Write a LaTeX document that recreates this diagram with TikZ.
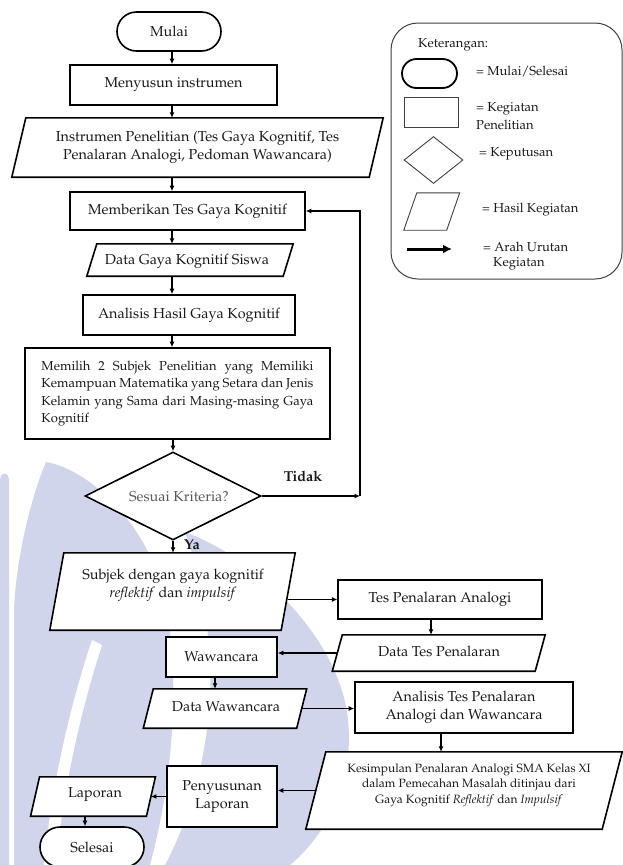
\documentclass[tikz,border=0pt]{standalone}
\usepackage[T1]{fontenc}
\usepackage{mathpazo}
\usetikzlibrary{shapes.geometric,shapes.misc,calc,arrows.meta}
\definecolor{wm}{RGB}{208,213,235}
\newcommand\fmain{\fontsize{14.4}{18}\selectfont}
\newcommand\fsmall{\fontsize{13}{17.5}\selectfont}
\newcommand\fkes{\fontsize{12}{15.5}\selectfont}
\newcommand\paral[3][pline]{\draw[#1] ($(#2.north west)+(#3,0)$) -- ($(#2.north east)+(#3,0)$) -- ($(#2.south east)-(#3,0)$) -- ($(#2.south west)-(#3,0)$) -- cycle;}
\begin{document}
\begin{tikzpicture}[x=1pt,y=-1pt,
  txt/.style={inner sep=0pt, align=center, font=\fmain, text=black!90},
  box/.style={txt, draw=black, fill=white, line width=1.6pt},
  term/.style={box, rounded rectangle},
  hold/.style={txt},
  pline/.style={draw=black, fill=white, line width=1.6pt, line join=miter},
  arr/.style={draw=black, line width=1.3pt, -{Latex[length=5.5pt,width=5pt]}},
  legtxt/.style={inner sep=0pt, anchor=west, font=\fsmall, text=black!90, align=left},
  lab/.style={inner sep=0pt, font=\fmain\bfseries, text=black!90}]
\useasboundingbox (0,0) rectangle (623,865);
\fill[white] (0,0) rectangle (623,865);

% faint watermark in the background
\fill[wm] (0,865) -- (0,481) .. controls (0,471) and (9,471) .. (9,481) -- (9,865) -- cycle;
\fill[wm] (46,462) .. controls (90,470) and (140,520) .. (160,580) .. controls (180,650) and (178,760) .. (150,865) -- (14,865) -- (14,610) .. controls (16,560) and (30,500) .. (46,462) -- cycle;
\fill[white] (92,640) .. controls (72,700) and (52,780) .. (44,865) -- (56,865) .. controls (64,780) and (84,700) .. (102,645) -- cycle;
\fill[wm] (185,532) .. controls (260,560) and (340,640) .. (348,720) .. controls (355,790) and (320,840) .. (290,865) -- (165,865) .. controls (200,800) and (222,700) .. (204,610) .. controls (198,575) and (192,550) .. (185,532) -- cycle;

% helper columns
\coordinate (sp) at (172,0);
\coordinate (lx) at (360,0);
\coordinate (ca) at (431,0);
\coordinate (cb) at (215,0);
\coordinate (cc) at (441,0);
\coordinate (cd) at (85,0);

% main chain
\node[term, minimum width=104pt, minimum height=39pt] (mulai) at (169,31.5) {Mulai};
\node[box, minimum width=207pt, minimum height=40pt] (menyusun) at (173.5,85) {Menyusun instrumen};
\node[hold, minimum width=357pt, minimum height=59pt] (instr) at (197.5,147.5) {};
\paral{instr}{7}
\node[txt] (instrt) at (197.5,147) {Instrumen Penelitian (Tes Gaya Kognitif, Tes\\Penalaran Analogi, Pedoman Wawancara)};
\node[box, minimum width=235pt, minimum height=38pt] (mem) at (187.5,211) {Memberikan Tes Gaya Kognitif};
\node[hold, minimum width=196pt, minimum height=32pt] (dgk) at (190,260) {};
\paral{dgk}{5}
\node[txt] (dgkt) at (187,261) {Data Gaya Kognitif Siswa};
\node[box, minimum width=212pt, minimum height=40pt] (ahg) at (189,315) {Analisis Hasil Gaya Kognitif};
\node[box, minimum width=305pt, minimum height=91pt, inner xsep=16.5pt, text width=272pt, align=justify, font=\fsmall] (pilih) at (177.5,393.5) {Memilih 2 Subjek Penelitian yang Memiliki\linebreak Kemampuan Matematika yang Setara dan Jenis\linebreak Kelamin yang Sama dari Masing-masing Gaya\linebreak Kognitif};
\node[diamond, draw=black, fill=white, line width=1.6pt, minimum width=176pt, minimum height=88pt, inner sep=0pt] (dec) at (173,496) {};
\node[txt, text=black!65] (dect) at (179,497) {Sesuai Kriteria?};
\node[lab] (tidak) at (303,476) {Tidak};
\node[lab] (ya) at (192,545) {Ya};

\node[hold, minimum width=231pt, minimum height=77pt] (subj) at (172.5,591.5) {};
\paral{subj}{7}
\node[txt] (subjt) at (173,585) {Subjek dengan gaya kognitif\\\textit{reflektif} dan \textit{impulsif}};
\node[box, minimum width=203.5pt, minimum height=39pt] (tes) at (440,599.5) {Tes Penalaran Analogi};
\node[hold, minimum width=202.5pt, minimum height=36pt] (dtes) at (438.75,653) {};
\paral{dtes}{5}
\node[txt] (dtest) at (439,651.5) {Data Tes Penalaran};
\node[box, minimum width=111pt, minimum height=40pt] (waw) at (221.5,657) {Wawancara};
\node[hold, minimum width=153pt, minimum height=39pt] (dw) at (225,708.5) {};
\paral{dw}{5}
\node[txt] (dwt) at (226,706.5) {Data Wawancara};
\node[box, minimum width=218pt, minimum height=51pt] (at) at (464,707.5) {Analisis Tes Penalaran\\Analogi dan Wawancara};
\node[hold, minimum width=296pt, minimum height=77pt] (kes) at (464,790.5) {};
\paral{kes}{10}
\node[txt, font=\fkes] (kest) at (469,785) {Kesimpulan Penalaran Analogi SMA Kelas XI\\dalam Pemecahan Masalah ditinjau dari\\Gaya Kognitif \textit{Reflektif} dan \textit{Impulsif}};
\node[box, minimum width=110pt, minimum height=61pt] (peny) at (222,796.5) {Penyusunan\\Laporan};
\node[hold, minimum width=115.5pt, minimum height=39pt] (lap) at (93,796.5) {};
\paral{lap}{4.5}
\node[txt] (lapt) at (95,795) {Laporan};
\node[term, minimum width=104pt, minimum height=40pt] (sel) at (92,847) {Selesai};

% connectors
\draw[arr] (mulai.south -| sp) -- (menyusun.north -| sp);
\draw[arr] (menyusun.south -| sp) -- (instr.north -| sp);
\draw[arr] (instr.south -| sp) -- (mem.north -| sp);
\draw[arr] (mem.south -| sp) -- (dgk.north -| sp);
\draw[arr] (dgk.south -| sp) -- (ahg.north -| sp);
\draw[arr] (ahg.south -| sp) -- (pilih.north -| sp);
\draw[arr] (pilih.south -| dec) -- (dec.north);
\draw[arr] (dec.east) -- (dec.east -| lx);
\draw[arr] (dec.east -| lx) |- (mem.east);
\draw[arr] (dec.south) -- (dec.south |- subj.north);
\draw[arr] (subj.east |- tes.west) -- (tes.west);
\draw[arr] (tes.south -| ca) -- (dtes.north -| ca);
\draw[arr] (dtes.west) -- (dtes.west -| waw.east);
\draw[arr] (waw.south -| cb) -- (dw.north -| cb);
\draw[arr] (dw.east) -- (dw.east -| at.west);
\draw[arr] (at.south -| cc) -- (kes.north -| cc);
\draw[arr] (kes.west) -- (kes.west -| peny.east);
\draw[arr] (peny.west) -- (peny.west -| lap.east);
\draw[arr] (lap.south -| cd) -- (sel.north -| cd);

% legend
\node[draw=black!75, line width=1pt, rounded corners=27pt, minimum width=231pt, minimum height=256pt, inner sep=0pt] (leg) at (506.5,151) {};
\node[legtxt] (kt) at (418,45) {Keterangan:};
\node[draw=black, line width=1.8pt, rounded rectangle, minimum width=55pt, minimum height=29pt, inner sep=0pt] (lterm) at (429.5,73.5) {};
\node[legtxt] (lt1) at (476,72) {= Mulai/Selesai};
\node[draw=black!75, line width=0.9pt, minimum width=54pt, minimum height=30pt, inner sep=0pt] (lrect) at (431,112) {};
\node[legtxt] (lt2) at (476,116) {= Kegiatan\\Penelitian};
\node[diamond, draw=black!75, line width=0.9pt, minimum width=59pt, minimum height=47pt, inner sep=0pt] (ldia) at (433.5,160) {};
\node[legtxt] (lt3) at (479,154) {= Keputusan};
\node[minimum width=42.5pt, minimum height=37pt, inner sep=0pt] (lpar) at (431.75,211.5) {};
\paral[draw=black!75, line width=0.9pt]{lpar}{6.5}
\node[legtxt] (lt4) at (482,210) {= Hasil Kegiatan};
\coordinate (la1) at (407,249);
\coordinate (la2) at (452,249);
\draw[line width=3pt, -{Latex[length=9pt,width=9pt]}] (la1) -- (la2);
\node[legtxt] (lt5) at (483,247) {= Arah Urutan};
\node[legtxt] (lt6) at (493,264) {Kegiatan};
\end{tikzpicture}
\end{document}
